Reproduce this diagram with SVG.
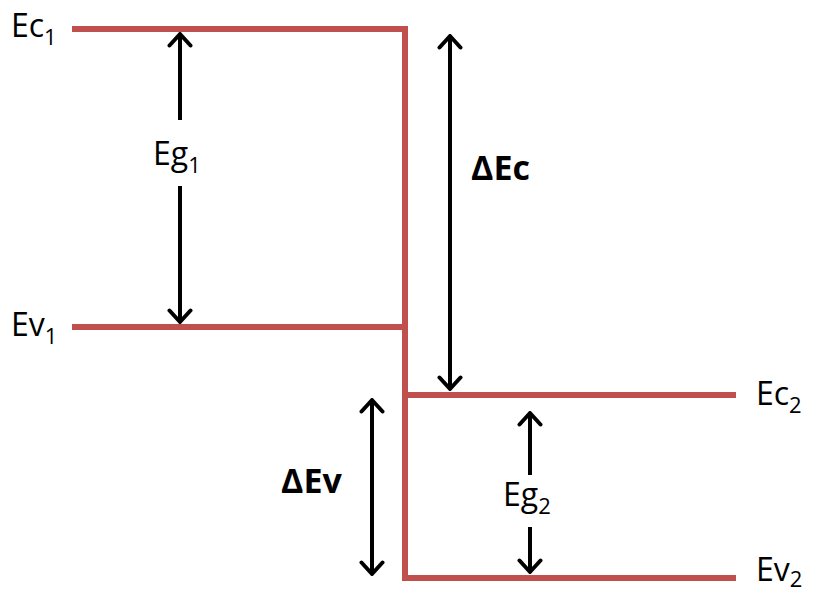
<svg xmlns="http://www.w3.org/2000/svg" width="819" height="595" viewBox="0 0 819 595">
<defs>
<marker id="ah" viewBox="0 0 16 26" refX="14" refY="13" markerWidth="16" markerHeight="26" markerUnits="userSpaceOnUse" orient="auto-start-reverse">
<path d="M2.5,2.5 L14,13 L2.5,23.5" fill="none" stroke="#000" stroke-width="4" stroke-linecap="round" stroke-linejoin="round"/>
</marker>
<style>
.band{stroke:#C0504D;stroke-width:6;fill:none}
.arr{stroke:#000;stroke-width:4;fill:none;marker-end:url(#ah)}
.dbl{marker-start:url(#ah)}
.lbl{font-family:"Open Sans","Noto Sans",sans-serif;font-size:32px;fill:#000}
.sub{font-size:22px}
.bold{font-weight:bold;font-size:34px}
</style>
</defs>
<rect width="819" height="595" fill="#fff"/>
<g id="bands">
<polyline class="band" points="72,29 405,29 405,578 736,578"/>
<line class="band" x1="72" y1="327" x2="405" y2="327"/>
<line class="band" x1="405" y1="395" x2="736" y2="395"/>
</g>
<g id="connectors">
<line class="arr" x1="180" y1="120" x2="180" y2="34"/>
<line class="arr" x1="180" y1="186" x2="180" y2="322"/>
<line class="arr dbl" x1="450" y1="36" x2="450" y2="389"/>
<line class="arr dbl" x1="372" y1="400" x2="372" y2="574"/>
<line class="arr" x1="530" y1="475" x2="530" y2="413"/>
<line class="arr" x1="530" y1="527" x2="530" y2="572"/>
</g>
<g id="Ec1"><text class="lbl" x="11" y="37">Ec<tspan class="sub" dy="8">1</tspan></text></g>
<g id="Ev1"><text class="lbl" x="11" y="336">Ev<tspan class="sub" dy="8">1</tspan></text></g>
<g id="Eg1"><text class="lbl" x="153" y="165">Eg<tspan class="sub" dy="8">1</tspan></text></g>
<g id="dEc"><text class="lbl bold" x="471" y="180">ΔEc</text></g>
<g id="dEv"><text class="lbl bold" x="281" y="493">ΔEv</text></g>
<g id="Eg2"><text class="lbl" x="503" y="506">Eg<tspan class="sub" dy="8">2</tspan></text></g>
<g id="Ec2"><text class="lbl" x="756" y="405">Ec<tspan class="sub" dy="8">2</tspan></text></g>
<g id="Ev2"><text class="lbl" x="756" y="581">Ev<tspan class="sub" dy="6">2</tspan></text></g>
</svg>
